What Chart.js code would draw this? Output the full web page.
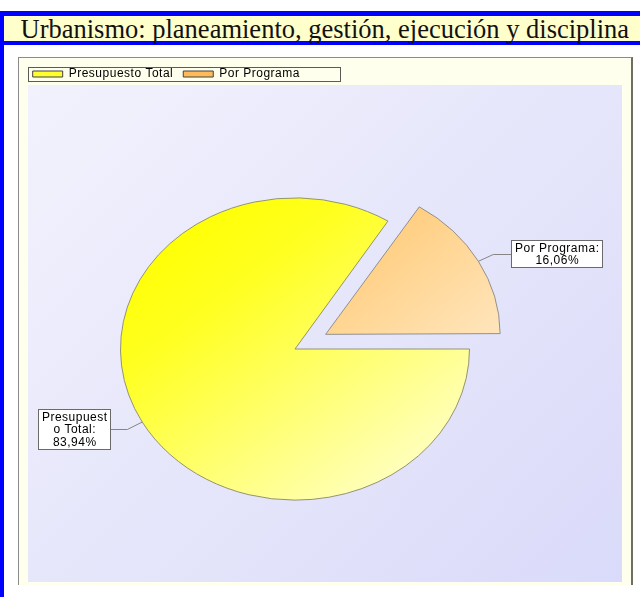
<!DOCTYPE html>
<html>
<head>
<meta charset="utf-8">
<script src="https://cdn.jsdelivr.net/npm/chart.js@4/dist/chart.umd.min.js"></script>
<style>
  html, body { margin: 0; padding: 0; }
  body { width: 640px; height: 597px; overflow: hidden; background: #ffffff; position: relative; }
  .abs { position: absolute; }
  #frameTop { left: 0; top: 11px; width: 640px; height: 5px; background: #0000ff; }
  #frameLeft { left: 0; top: 11px; width: 4px; height: 586px; background: #0000ff; }
  #titleBar { left: 4px; top: 16px; width: 636px; height: 25px; background: #ffffcc; }
  #titleLine { left: 0; top: 41px; width: 640px; height: 4px; background: #0000ff; }
  #title { left: 20.5px; top: 16px; font-family: "Liberation Serif", "Times New Roman", serif; font-size: 26.5px; line-height: 26.5px; color: #111; white-space: nowrap; }
  #panel { left: 18px; top: 57px; width: 612px; height: 527px; background: #ffffee; border-left: 1px solid #8a8a8a; border-top: 1px solid #8a8a8a; border-right: 2px solid #6e6e62; }
  #plot { left: 28px; top: 85px; width: 594px; height: 497px; background: linear-gradient(135deg, #f2f2fd 0%, #e6e6fb 50%, #dadafa 100%); }
  #chart { left: 0; top: 0; }
</style>
</head>
<body>
<div id="frameTop" class="abs"></div>
<div id="frameLeft" class="abs"></div>
<div id="titleBar" class="abs"></div>
<div id="titleLine" class="abs"></div>
<div id="title" class="abs">Urbanismo: planeamiento, gestión, ejecución y disciplina</div>
<div id="panel" class="abs"></div>
<div id="plot" class="abs"></div>
<canvas id="chart" class="abs" width="640" height="620"></canvas>
<script>
// ---- data ----
const categories = ['Presupuesto Total', 'Por Programa'];
const values = [83.94, 16.06];
const valueLabels = ['83,94%', '16,06%'];
const explode = [0, 1];

// ---- style constants ----
const PLOT_LEFT = 28, PLOT_RIGHT = 622;
const SQUASH = 0.866;
const OFFSET_PX = 35;
const RADIUS = 174.5;
const FONT_SIZE = 12;
const LETTER_SP = '0.5px';
const gradStops = [
  [[0, '#ffff00'], [0.25, '#ffff20'], [1, '#ffffd2']],
  [[0, '#ffc466'], [1, '#ffe6be']]
];
const legendFill = ['#ffff30', '#ffbb5a'];
const borderCols = ['#8c8c6c', '#8a8a8a'];

function arcGradient(c) {
  const chart = c.chart;
  const i = c.dataIndex;
  const area = chart.chartArea;
  if (!area || i === undefined) return gradStops[i || 0][0][1];
  const cx = (area.left + area.right) / 2, cy = (area.top + area.bottom) / 2;
  let g;
  if (i === 0) {
    g = chart.ctx.createLinearGradient(cx - RADIUS * 0.75, cy - RADIUS * 0.85, cx + RADIUS * 0.8, cy + RADIUS * 0.95);
  } else {
    g = chart.ctx.createLinearGradient(cx + 10, cy - RADIUS, cx + RADIUS, cy + 5);
  }
  gradStops[i].forEach(s => g.addColorStop(s[0], s[1]));
  return g;
}

const squashPlugin = {
  id: 'squash',
  beforeUpdate(chart) { chart.ctx.letterSpacing = LETTER_SP; },
  afterDatasetsUpdate(chart) {
    const meta = chart.getDatasetMeta(0);
    meta.data.forEach((el, i) => {
      const off = explode[i] ? OFFSET_PX * 4 : 0;
      const circ = el.endAngle - el.startAngle;
      const fix = 1 - Math.sin(Math.min(Math.PI, circ));
      el.outerRadius = RADIUS - (off / 4) * fix;
    });
  },
  beforeDatasetsDraw(chart) {
    const el = chart.getDatasetMeta(0).data[0];
    const ctx = chart.ctx;
    ctx.save();
    ctx.translate(el.x, el.y);
    ctx.scale(1, SQUASH);
    ctx.translate(-el.x, -el.y);
  },
  afterDatasetsDraw(chart) { chart.ctx.restore(); }
};

function wrapChars(ctx, text, maxW) {
  const lines = [];
  let cur = '';
  for (const ch of text) {
    const t = cur + ch;
    if (cur && ctx.measureText(t).width > maxW) {
      lines.push(cur);
      cur = ch === ' ' ? '' : ch;
    } else {
      cur = t;
    }
  }
  if (cur) lines.push(cur);
  return lines;
}

const labelPlugin = {
  id: 'sliceLabels',
  afterDraw(chart) {
    const ctx = chart.ctx;
    const meta = chart.getDatasetMeta(0);
    ctx.save();
    ctx.letterSpacing = LETTER_SP;
    ctx.font = FONT_SIZE + 'px "Liberation Sans", Arial, sans-serif';
    meta.data.forEach((el, i) => {
      const mid = (el.startAngle + el.endAngle) / 2;
      const off = explode[i] ? OFFSET_PX : 0;
      const cx = el.x + Math.cos(mid) * off;
      const cy = el.y + Math.sin(mid) * off * SQUASH;
      const ex = cx + Math.cos(mid) * RADIUS;
      const ey = cy + Math.sin(mid) * RADIUS * SQUASH;
      const dx = Math.cos(mid), dy = Math.sin(mid) * SQUASH;
      const dl = Math.hypot(dx, dy);
      const elbowX = ex + (dx / dl) * 16.5;
      const elbowY = ey + (dy / dl) * 17;
      const right = dx >= 0;
      const boxEdge = right ? elbowX + 17.4 : elbowX - 17.7;
      const avail = right ? PLOT_RIGHT - boxEdge : boxEdge - PLOT_LEFT;
      const maxW = avail - 12;
      const lines = wrapChars(ctx, categories[i] + ':', maxW);
      lines.push(valueLabels[i]);
      const tw = Math.max(...lines.map(l => ctx.measureText(l).width));
      const bw = Math.round(tw + 6);
      const lh = 12.5;
      const bh = Math.round(lines.length * lh + 2);
      const bxLeft = Math.round(right ? boxEdge : boxEdge - bw) + 0.5;
      const byTop = Math.round(elbowY - bh / 2) + 0.5;
      // leader
      ctx.strokeStyle = '#858585';
      ctx.lineWidth = 1;
      ctx.beginPath();
      ctx.moveTo(ex, ey);
      ctx.lineTo(elbowX, Math.round(elbowY) + 0.5);
      ctx.lineTo(right ? bxLeft : bxLeft + bw, Math.round(elbowY) + 0.5);
      ctx.stroke();
      // box
      ctx.fillStyle = '#ffffff';
      ctx.fillRect(bxLeft, byTop, bw, bh);
      ctx.strokeStyle = '#6a6a6a';
      ctx.strokeRect(bxLeft, byTop, bw, bh);
      ctx.fillStyle = '#000000';
      ctx.textAlign = 'center';
      ctx.textBaseline = 'middle';
      lines.forEach((l, k) => {
        ctx.fillText(l, bxLeft + bw / 2 + 0.25, byTop + 1.5 + lh * k + lh / 2);
      });
    });
    ctx.restore();
  }
};

const legendBoxPlugin = {
  id: 'legendBox',
  afterDraw(chart) {
    const lg = chart.legend;
    if (!lg) return;
    const ctx = chart.ctx;
    ctx.save();
    ctx.strokeStyle = '#5a5a5a';
    ctx.lineWidth = 1;
    ctx.strokeRect(Math.round(lg.left + 5.5) + 0.5, Math.round(lg.top + 9) + 0.5, 312, 14);
    ctx.restore();
  }
};

Chart.defaults.font.family = '"Liberation Sans", Arial, sans-serif';
Chart.defaults.font.size = FONT_SIZE;
Chart.defaults.color = '#000000';

new Chart(document.getElementById('chart'), {
  type: 'pie',
  data: {
    labels: categories,
    datasets: [{
      data: values,
      backgroundColor: arcGradient,
      borderColor: borderCols,
      borderWidth: 1,
      borderJoinStyle: 'miter',
      offset: explode.map(e => e ? OFFSET_PX * 4 : 0),
      hoverOffset: 0
    }]
  },
  options: {
    responsive: false,
    animation: false,
    events: [],
    rotation: 90,
    radius: RADIUS,
    layout: { padding: { left: 22.7, right: 72.7, top: 58, bottom: 12 } },
    plugins: {
      tooltip: { enabled: false },
      legend: {
        position: 'top',
        align: 'start',
        labels: {
          boxWidth: 30,
          boxHeight: 6,
          padding: 10,
          font: { size: FONT_SIZE },
          color: '#000000',
          generateLabels(chart) {
            const base = Chart.controllers.pie.overrides.plugins.legend.labels.generateLabels(chart);
            return base.map((it, i) => Object.assign(it, {
              fillStyle: legendFill[i],
              strokeStyle: '#404040',
              lineWidth: 1
            }));
          }
        }
      }
    }
  },
  plugins: [squashPlugin, labelPlugin, legendBoxPlugin]
});
</script>
</body>
</html>
